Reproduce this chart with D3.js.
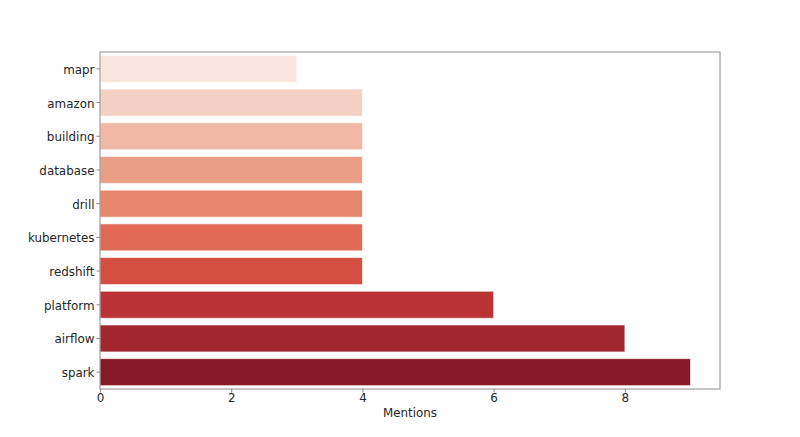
<!DOCTYPE html>
<html><head><meta charset="utf-8">
<script src="https://cdn.jsdelivr.net/npm/d3@7"></script>
<style>body{margin:0;background:#fff}text{font-family:"DejaVu Sans",sans-serif}</style>
</head><body><svg id="c" width="800" height="437"></svg>
<script>
const categories = ["mapr","amazon","building","database","drill","kubernetes","redshift","platform","airflow","spark"];
const mentions = [3,4,4,4,4,4,4,6,8,9];
const colors = ["#f9e5dd","#f4d1c3","#f1b9a5","#eb9e86","#e8876f","#e16a57","#d44e42","#bb3236","#a1262d","#831a24"];
const xTicks = [0,2,4,6,8];
const xLabel = "Mentions";

const svg = d3.select("#c");
const m = {left:100, right:720, top:52, bottom:389};
const fs = "11.9px";
const x = d3.scaleLinear().domain([0, 9.45]).range([m.left, m.right]);
const y = d3.scaleBand().domain(categories).range([m.top, m.bottom]).paddingInner(0.2).paddingOuter(0.1);

svg.append("g").selectAll("rect").data(categories).join("rect")
  .attr("x", x(0)).attr("y", d => y(d))
  .attr("width", (d,i) => x(mentions[i]) - x(0))
  .attr("height", y.bandwidth())
  .attr("fill", (d,i) => colors[i])
  .attr("stroke", "#ffffff").attr("stroke-opacity", 0.6).attr("stroke-width", 1);

svg.append("rect").attr("x", m.left).attr("y", m.top).attr("width", m.right-m.left).attr("height", m.bottom-m.top)
  .attr("fill","none").attr("stroke","#8c8c8c").attr("stroke-width",1);

const xa = svg.append("g").attr("transform", `translate(0,${m.bottom})`)
  .call(d3.axisBottom(x).tickValues(xTicks).tickFormat(d3.format("d")).tickSize(3.5).tickPadding(2));
const ya = svg.append("g").attr("transform", `translate(${m.left},0)`)
  .call(d3.axisLeft(y).tickSize(3.5).tickPadding(2));
[xa, ya].forEach(a => {
  a.select(".domain").remove();
  a.selectAll("line").attr("stroke","#8c8c8c");
  a.selectAll("text").attr("fill","#262626").style("font-size",fs).style("font-family","DejaVu Sans");
});
ya.selectAll("text").attr("dy","0.42em");
xa.selectAll("text").attr("dy","0.66em");

svg.append("text").attr("x", (m.left+m.right)/2).attr("y", 416.7).attr("text-anchor","middle")
  .attr("fill","#262626").style("font-size",fs).text(xLabel);
</script></body></html>
